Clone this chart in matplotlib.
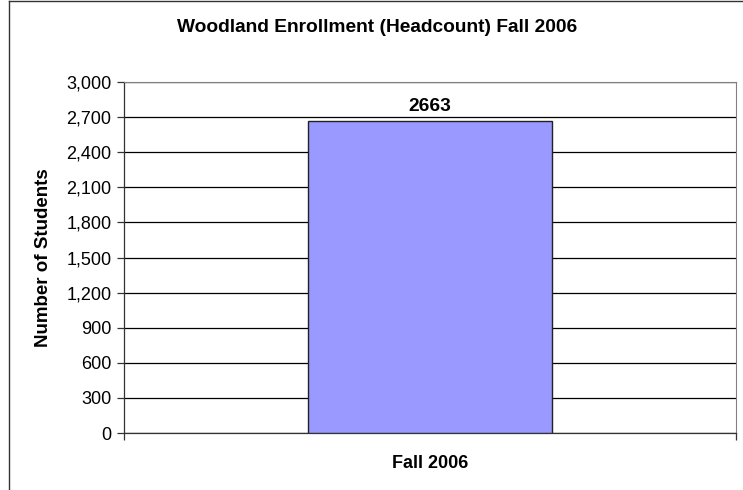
import matplotlib.pyplot as plt
from matplotlib.lines import Line2D
from matplotlib.ticker import FuncFormatter

categories = ['Fall 2006']
headcount = [2663]
yticks = list(range(0, 3001, 300))

plt.rcParams['font.family'] = ['Liberation Sans', 'DejaVu Sans']

W, H = 743, 490
fig = plt.figure(figsize=(W / 100, H / 100), dpi=100)
ax = fig.add_axes([124 / W, 1 - 433 / H, (736 - 124) / W, (433 - 82) / H])

x = list(range(len(categories)))
bars = ax.bar(x, headcount, width=0.4, color='#9999ff', edgecolor='#222222', linewidth=1.0, zorder=3)
for b, v in zip(bars, headcount):
    ax.text(b.get_x() + b.get_width() / 2, v + 55, str(v), ha='center', va='bottom',
            fontsize=13.8, fontweight='bold')

ax.set_xlim(-0.5, len(categories) - 0.5)
ax.set_ylim(0, 3000)
ax.set_yticks(yticks)
ax.yaxis.set_major_formatter(FuncFormatter(lambda v, p: f'{int(v):,}'))
ax.yaxis.grid(True, color='black', linewidth=0.9, zorder=0)
ax.set_axisbelow(True)
ax.tick_params(axis='y', labelsize=13, length=5, width=0.9, color='#333333', pad=4)
ax.set_xticks([-0.5, len(categories) - 0.5])
ax.set_xticklabels([])
ax.tick_params(axis='x', length=5, width=0.9, color='#333333')

for s in ['top', 'right']:
    ax.spines[s].set_color('#808080')
for s in ['left', 'bottom']:
    ax.spines[s].set_color('#333333')
    ax.spines[s].set_linewidth(0.9)

ax.set_ylabel('Number of Students', fontsize=13.5, fontweight='bold', labelpad=10)
fig.text(430 / W, 1 - 463 / H, categories[0], ha='center', va='center', fontsize=13, fontweight='bold')
fig.text(377 / W, 1 - 28 / H, 'Woodland Enrollment (Headcount) Fall 2006', ha='center', va='center',
         fontsize=13.8, fontweight='bold')

# chart frame
fig.add_artist(Line2D([8.5 / W, 8.5 / W], [0, 1 - 1 / H], color='#333333', linewidth=1.0))
fig.add_artist(Line2D([8.5 / W, 1], [1 - 1 / H, 1 - 1 / H], color='#333333', linewidth=1.0))

fig.savefig('out.png', dpi=100)
